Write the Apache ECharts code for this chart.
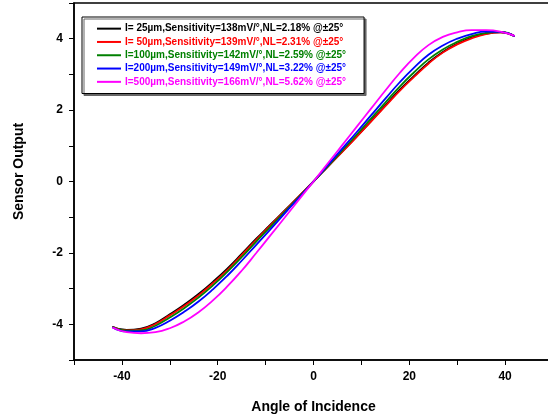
<!DOCTYPE html>
<html>
<head>
<meta charset="utf-8">
<script src="https://cdn.jsdelivr.net/npm/echarts@6/dist/echarts.min.js"></script>
<style>html,body{margin:0;padding:0;background:#fff}#c{width:548px;height:414px}</style>
</head>
<body>
<div id="c"></div>
<script>
const angles = [-42,-39,-36,-33,-30,-27,-24,-21,-18,-15,-12,-9,-6,-3,0,3,6,9,12,15,18,21,24,27,30,33,36,39,42];
const names = [
  'I= 25µm,Sensitivity=138mV/°,NL=2.18% @±25°',
  'I= 50µm,Sensitivity=139mV/°,NL=2.31% @±25°',
  'I=100µm,Sensitivity=142mV/°,NL=2.59% @±25°',
  'I=200µm,Sensitivity=149mV/°,NL=3.22% @±25°',
  'I=500µm,Sensitivity=166mV/°,NL=5.62% @±25°'
];
const colors = ['#000000','#ff0000','#008000','#0000ff','#ff00ff'];
const out25  = [-4.07,-4.16,-4.12,-3.97,-3.72,-3.45,-3.15,-2.81,-2.44,-2.03,-1.61,-1.21,-0.81,-0.41,0,0.42,0.84,1.26,1.69,2.13,2.57,2.96,3.33,3.63,3.86,4.03,4.14,4.18,4.07];
const out50  = [-4.07,-4.17,-4.14,-3.99,-3.75,-3.49,-3.19,-2.85,-2.48,-2.06,-1.64,-1.23,-0.82,-0.41,0,0.42,0.83,1.25,1.68,2.11,2.54,2.93,3.30,3.61,3.84,4.01,4.13,4.18,4.07];
const out100 = [-4.07,-4.18,-4.17,-4.04,-3.81,-3.55,-3.25,-2.91,-2.53,-2.12,-1.69,-1.27,-0.85,-0.43,0,0.43,0.87,1.31,1.76,2.21,2.66,3.06,3.42,3.70,3.91,4.07,4.16,4.19,4.07];
const out200 = [-4.08,-4.20,-4.20,-4.10,-3.90,-3.65,-3.36,-3.02,-2.64,-2.22,-1.78,-1.34,-0.89,-0.45,0,0.46,0.92,1.38,1.85,2.32,2.78,3.19,3.55,3.81,4.00,4.13,4.20,4.19,4.07];
const out500 = [-4.09,-4.22,-4.25,-4.22,-4.11,-3.92,-3.66,-3.33,-2.94,-2.50,-2.01,-1.51,-1.01,-0.50,0,0.51,1.02,1.53,2.04,2.55,3.04,3.47,3.82,4.05,4.18,4.24,4.24,4.20,4.08];
const outputs = [out25,out50,out100,out200,out500];
const xTicks = [-40,-20,0,20,40];
const yTicks = [-4,-2,0,2,4];

const FONT = 'Arial, "Liberation Sans", sans-serif';
const chart = echarts.init(document.getElementById('c'));
chart.setOption({
  animation: false,
  backgroundColor: '#fff',
  grid: {left: 74, top: 3, width: 479, height: 357, outerBoundsMode: 'none', containLabel: false,
         show: true, borderColor: '#000', borderWidth: 1.5},
  legend: {
    orient: 'vertical', left: 82, top: 17, padding: [5, 18, 5, 15], itemGap: 0,
    icon: 'rect', itemWidth: 24, itemHeight: 2,
    backgroundColor: '#fff', borderColor: '#000', borderWidth: 1,
    shadowColor: '#666', shadowOffsetX: 2, shadowOffsetY: 2, shadowBlur: 0,
    data: names.map((n,i) => ({name: n, textStyle: {color: colors[i]}})),
    textStyle: {fontFamily: FONT, fontWeight: 'bold', fontSize: 10, lineHeight: 13.3, padding: [0,0,0,-1]}
  },
  xAxis: {
    type: 'value', min: -50, max: 50, interval: 10,
    name: 'Angle of Incidence', nameLocation: 'middle', nameGap: 40,
    nameTextStyle: {fontFamily: FONT, fontWeight: 'bold', fontSize: 14, color: '#000'},
    axisLine: {onZero: false, lineStyle: {color: '#000', width: 1.5}},
    axisTick: {show: true, inside: false, length: 5, lineStyle: {color: '#000', width: 1}},
    splitLine: {show: false},
    axisLabel: {fontFamily: FONT, fontWeight: 'bold', fontSize: 12, color: '#000', margin: 11,
      formatter: v => xTicks.includes(v) ? String(v) : ''}
  },
  yAxis: {
    type: 'value', min: -5, max: 5, interval: 1,
    name: 'Sensor Output', nameLocation: 'middle', nameGap: 48,
    nameTextStyle: {fontFamily: FONT, fontWeight: 'bold', fontSize: 14, color: '#000', padding: [0,0,0,20]},
    axisLine: {onZero: false, lineStyle: {color: '#000', width: 1.5}},
    axisTick: {show: true, inside: false, length: 5, lineStyle: {color: '#000', width: 1}},
    splitLine: {show: false},
    axisLabel: {fontFamily: FONT, fontWeight: 'bold', fontSize: 12, color: '#000', margin: 11,
      formatter: v => yTicks.includes(v) ? String(v) : ''}
  },
  series: outputs.map((d,i) => ({
    name: names[i], type: 'line', smooth: true, symbol: 'none', showSymbol: false,
    color: colors[i], lineStyle: {color: colors[i], width: 1.8},
    data: angles.map((a,j) => [a, d[j]])
  }))
});
</script>
</body>
</html>
